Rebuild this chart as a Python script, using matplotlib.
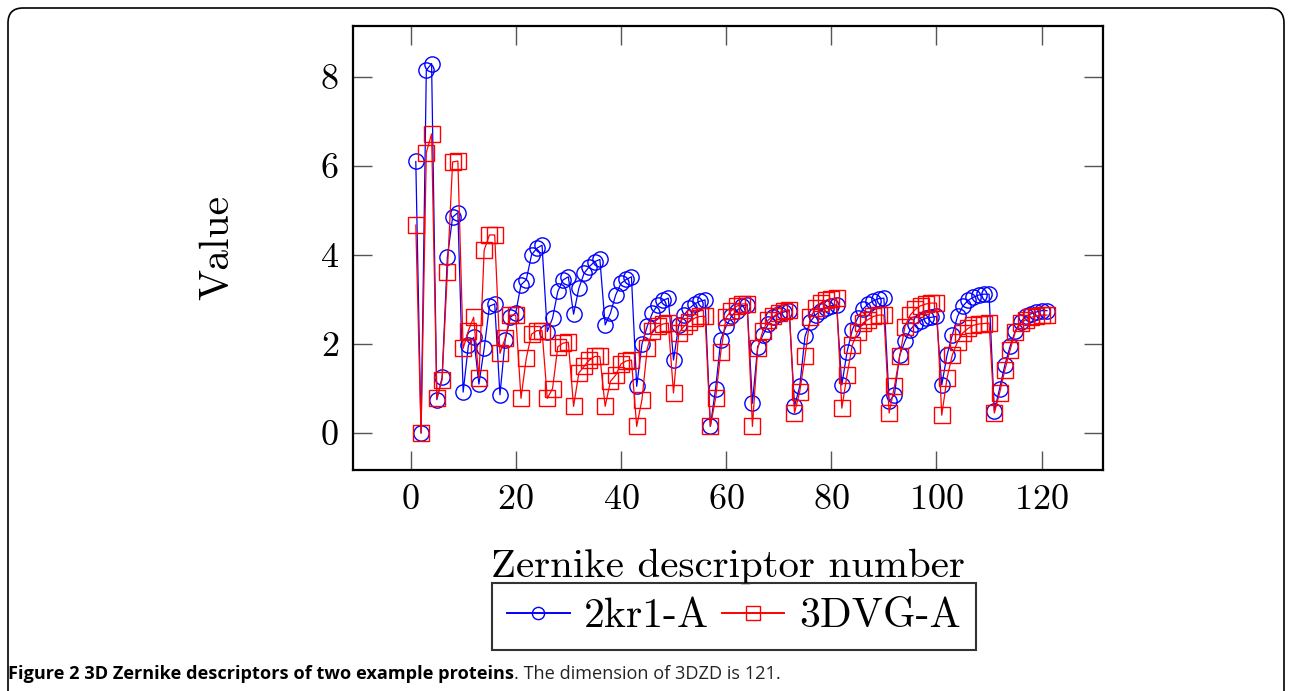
import numpy as np
import matplotlib
matplotlib.use('Agg')
import matplotlib.pyplot as plt
import matplotlib.patches as mpatches

# 3D Zernike descriptors, grouped by order n (group sizes 1,1,2,2,3,3,...,11)
kr1 = [6.1,
       0.0,
       8.15, 8.3,
       0.75, 1.25,
       3.95, 4.85, 4.95,
       0.92, 1.97, 2.15,
       1.1, 1.9, 2.85, 2.9,
       0.86, 2.1, 2.6, 2.7,
       3.33, 3.44, 4.0, 4.15, 4.22,
       2.28, 2.58, 3.18, 3.44, 3.51,
       2.67, 3.25, 3.59, 3.74, 3.85, 3.9,
       2.43, 2.69, 3.1, 3.36, 3.45, 3.51,
       1.05, 2.0, 2.4, 2.7, 2.88, 2.98, 3.03,
       1.64, 2.43, 2.65, 2.8, 2.9, 2.96, 2.99,
       0.15, 1.0, 2.1, 2.4, 2.62, 2.75, 2.85, 2.88,
       0.67, 1.94, 2.2, 2.45, 2.6, 2.68, 2.72, 2.75,
       0.6, 1.05, 2.17, 2.5, 2.65, 2.75, 2.82, 2.86, 2.88,
       1.08, 1.83, 2.32, 2.58, 2.78, 2.9, 2.97, 3.02, 3.03,
       0.71, 0.86, 1.75, 2.06, 2.32, 2.45, 2.52, 2.58, 2.6, 2.62,
       1.08, 1.75, 2.2, 2.62, 2.85, 2.98, 3.05, 3.1, 3.12, 3.12,
       0.49, 1.0, 1.53, 1.95, 2.3, 2.5, 2.62, 2.68, 2.72, 2.75, 2.75]

dvg = [4.67,
       0.0,
       6.3, 6.72,
       0.78, 1.2,
       3.62, 6.09, 6.11,
       1.9, 2.3, 2.6,
       1.23, 4.11, 4.45, 4.45,
       1.79, 2.13, 2.65, 2.65,
       0.78, 1.68, 2.22, 2.3, 2.3,
       0.78, 1.0, 1.94, 2.02, 2.04,
       0.6, 1.35, 1.5, 1.64, 1.72, 1.72,
       0.6, 1.16, 1.3, 1.55, 1.62, 1.64,
       0.15, 0.75, 1.9, 2.3, 2.4, 2.45, 2.47,
       0.9, 2.25, 2.4, 2.5, 2.58, 2.62, 2.62,
       0.15, 0.78, 1.83, 2.6, 2.75, 2.85, 2.9, 2.9,
       0.15, 1.9, 2.3, 2.54, 2.62, 2.7, 2.75, 2.77,
       0.45, 0.93, 1.72, 2.6, 2.8, 2.92, 2.98, 3.02, 3.03,
       0.56, 1.31, 1.98, 2.28, 2.47, 2.55, 2.62, 2.65, 2.65,
       0.45, 1.05, 1.72, 2.39, 2.65, 2.78, 2.86, 2.9, 2.92, 2.92,
       0.4, 1.23, 1.75, 2.05, 2.25, 2.35, 2.42, 2.45, 2.46, 2.47,
       0.45, 0.9, 1.42, 1.87, 2.28, 2.47, 2.55, 2.6, 2.63, 2.65, 2.65]

x = np.arange(1, len(kr1) + 1)
xticks = [0, 20, 40, 60, 80, 100, 120]
yticks = [0, 2, 4, 6, 8]

plt.rcParams['font.family'] = 'serif'
plt.rcParams['font.serif'] = ['cmr10', 'DejaVu Serif']
plt.rcParams['mathtext.fontset'] = 'cm'
plt.rcParams['axes.formatter.use_mathtext'] = True

fig = plt.figure(figsize=(12.9, 6.91), dpi=100)
ax = fig.add_axes([0.2734, 0.3198, 0.5814, 0.643])

ax.plot(x, kr1, color='blue', lw=0.9, marker='o', ms=11, mfc='none', mew=1.0, label='2kr1-A')
ax.plot(x, dvg, color='red', lw=0.9, marker='s', ms=12, mfc='none', mew=1.0, label='3DVG-A')

ax.set_xlim(-11, 131.6)
ax.set_ylim(-0.83, 9.15)
ax.set_xticks(xticks)
ax.set_yticks(yticks)
ax.tick_params(direction='in', length=14, width=1.0, color='#555555', labelsize=26,
               top=True, right=True, pad=10)
for s in ax.spines.values():
    s.set_linewidth(1.6)

ax.set_xlabel('Zernike descriptor number', fontsize=29.5, labelpad=24)
ax.set_ylabel('Value', fontsize=30, labelpad=60)

leg = fig.legend(loc='center', bbox_to_anchor=(0.569, 0.108), ncol=2, fontsize=30,
                 frameon=True, fancybox=False, edgecolor='black', handlelength=1.5,
                 handletextpad=0.35, columnspacing=0.3, borderpad=0.36, markerscale=0.8)
leg.get_frame().set_linewidth(1.5)
for h in leg.get_lines():
    h.set_linewidth(1.4)

# caption
t1 = fig.text(0.006, 0.024, 'Figure 2 3D Zernike descriptors of two example proteins',
              fontsize=13.1, fontweight='bold', family='Open Sans', ha='left', va='center')
ax.annotate('. The dimension of 3DZD is 121.', xy=(1, 0.5), xycoords=t1,
            ha='left', va='center', fontsize=13.1, family='Open Sans', color='#222222')

# rounded outer frame
frame = mpatches.FancyBboxPatch((0.08, -0.3), 12.76, 7.13,
                                boxstyle='round,pad=0,rounding_size=0.15',
                                transform=fig.dpi_scale_trans, fill=False,
                                edgecolor='black', linewidth=1.2)
fig.patches.append(frame)

fig.savefig('out.png', dpi=100)
